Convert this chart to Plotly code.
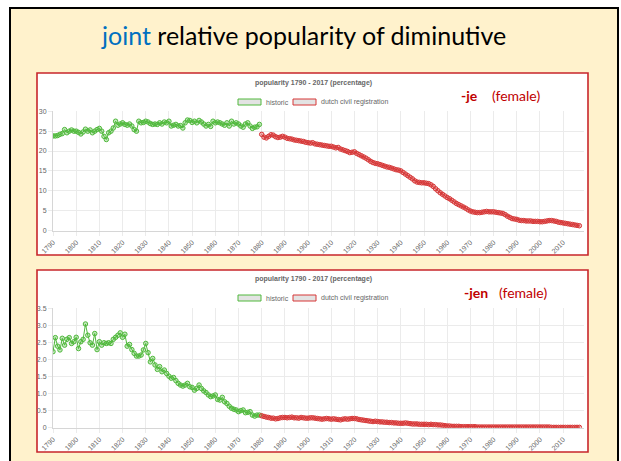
import plotly.graph_objects as go

W, H = 621, 461

# ---------------- data ----------------
hist_years = list(range(1790, 1880))
civil_years = list(range(1880, 2018))

je_historic = [23.8, 23.8, 23.9, 24.2, 24.4, 25.4, 24.6, 25.0, 25.3, 25.0,
               25.0, 24.7, 24.3, 24.8, 25.5, 25.0, 25.3, 24.6, 25.0, 25.4,
               25.7, 25.0, 23.7, 22.9, 24.6, 25.0, 25.8, 27.5, 26.5, 26.8,
               27.1, 26.7, 26.5, 26.8, 26.3, 25.4, 25.0, 27.5, 27.1, 27.2,
               27.5, 27.3, 26.9, 26.7, 26.8, 26.7, 27.1, 26.8, 27.3, 27.1,
               27.5, 26.3, 26.5, 26.7, 26.3, 26.4, 25.8, 27.1, 27.8, 27.7,
               27.2, 27.5, 27.1, 27.7, 27.3, 26.8, 26.3, 26.7, 26.2, 27.5,
               27.1, 27.3, 27.1, 26.8, 26.5, 27.1, 26.3, 27.5, 26.8, 27.1,
               26.8, 26.3, 26.0, 26.8, 27.1, 26.3, 25.7, 26.0, 26.1, 26.7]

je_civil = [24.2, 23.5, 23.3, 23.7, 24.1, 24.0, 23.6, 23.4, 23.5, 23.7,
            23.5, 23.2, 23.1, 23.0, 22.8, 22.7, 22.6, 22.5, 22.4, 22.2,
            22.1, 22.0, 22.1, 21.8, 21.7, 21.6, 21.5, 21.4, 21.3, 21.2,
            21.2, 21.0, 20.8, 20.9, 20.5, 20.3, 20.1, 19.9, 19.6, 19.7,
            19.8, 19.4, 19.1, 18.8, 18.5, 18.2, 17.8, 17.4, 17.1, 16.9,
            16.8, 16.6, 16.4, 16.2, 16.0, 15.9, 15.7, 15.5, 15.3, 15.2,
            15.0, 14.6, 14.2, 13.8, 13.4, 13.0, 12.5, 12.2, 12.1, 12.0,
            12.0, 11.9, 11.8, 11.5, 11.1, 10.5, 10.0, 9.5, 9.1, 8.7,
            8.3, 8.0, 7.6, 7.2, 6.8, 6.5, 6.2, 5.9, 5.6, 5.2,
            4.9, 4.7, 4.6, 4.5, 4.5, 4.6, 4.7, 4.8, 4.7, 4.7,
            4.7, 4.6, 4.5, 4.4, 4.3, 4.0, 3.6, 3.3, 3.0, 2.9,
            2.8, 2.6, 2.5, 2.5, 2.4, 2.4, 2.4, 2.3, 2.3, 2.3,
            2.2, 2.2, 2.3, 2.4, 2.5, 2.5, 2.4, 2.3, 2.1, 2.0,
            1.9, 1.8, 1.7, 1.6, 1.5, 1.4, 1.3, 1.2]

jen_historic = [2.23, 2.64, 2.39, 2.28, 2.62, 2.42, 2.59, 2.64, 2.47, 2.52,
                2.65, 2.32, 2.52, 2.59, 3.04, 2.71, 2.49, 2.42, 2.76, 2.29,
                2.52, 2.42, 2.49, 2.47, 2.49, 2.47, 2.59, 2.65, 2.71, 2.78,
                2.65, 2.74, 2.39, 2.44, 2.29, 2.18, 2.10, 2.10, 2.13, 2.28,
                2.47, 2.20, 1.93, 2.03, 1.84, 1.71, 1.79, 1.64, 1.69, 1.59,
                1.51, 1.45, 1.47, 1.38, 1.30, 1.25, 1.22, 1.25, 1.30, 1.20,
                1.18, 1.10, 1.15, 1.25, 1.15, 1.08, 1.03, 0.96, 0.91, 0.93,
                0.96, 0.83, 0.81, 0.89, 0.76, 0.71, 0.63, 0.57, 0.54, 0.52,
                0.47, 0.50, 0.52, 0.44, 0.45, 0.47, 0.37, 0.34, 0.37, 0.37]

jen_civil = [0.35, 0.33, 0.31, 0.30, 0.28, 0.28, 0.26, 0.27, 0.29, 0.30,
             0.30, 0.29, 0.30, 0.31, 0.29, 0.29, 0.28, 0.30, 0.29, 0.28,
             0.28, 0.29, 0.29, 0.28, 0.27, 0.26, 0.25, 0.26, 0.27, 0.26,
             0.25, 0.26, 0.25, 0.24, 0.23, 0.25, 0.26, 0.25, 0.26, 0.27,
             0.27, 0.26, 0.24, 0.23, 0.22, 0.21, 0.20, 0.19, 0.18, 0.19,
             0.18, 0.17, 0.17, 0.16, 0.16, 0.15, 0.15, 0.14, 0.14, 0.13,
             0.13, 0.13, 0.14, 0.13, 0.12, 0.11, 0.11, 0.11, 0.10, 0.10,
             0.10, 0.10, 0.09, 0.10, 0.09, 0.09, 0.08, 0.08, 0.07, 0.06,
             0.05, 0.05, 0.04, 0.04, 0.04, 0.04, 0.03, 0.03, 0.03, 0.03,
             0.03, 0.03, 0.03, 0.02, 0.02, 0.02, 0.02, 0.02, 0.02, 0.02,
             0.02, 0.02, 0.02, 0.02, 0.02, 0.02, 0.02, 0.02, 0.02, 0.02,
             0.02, 0.02, 0.02, 0.02, 0.02, 0.02, 0.02, 0.02, 0.02, 0.02,
             0.02, 0.02, 0.02, 0.02, 0.02, 0.01, 0.01, 0.01, 0.01, 0.01,
             0.01, 0.01, 0.01, 0.01, 0.01, 0.01, 0.01, 0.01]

x_tick_vals = [1790, 1800, 1810, 1820, 1830, 1840, 1850, 1860, 1870, 1880, 1890,
               1900, 1910, 1920, 1930, 1940, 1950, 1960, 1970, 1980, 1990, 2000, 2010]
x_tick_text = [str(v) for v in x_tick_vals]
y1_tick_vals = [0, 5, 10, 15, 20, 25, 30]
y1_tick_text = ["0", "5", "10", "15", "20", "25", "30"]
y2_tick_vals = [0, 0.5, 1.0, 1.5, 2.0, 2.5, 3.0, 3.5]
y2_tick_text = ["0", "0.5", "1.0", "1.5", "2.0", "2.5", "3.0", "3.5"]

chart_title = "popularity 1790 - 2017 (percentage)"
series_names = ["historic", "dutch civil registration"]

# ---------------- helpers ----------------
def X(px):
    return px / W


def Y(py):
    return 1 - py / H


GREEN = "rgb(80,185,60)"
GREEN_FILL = "rgba(80,185,60,0.35)"
RED = "rgb(215,55,55)"
RED_FILL = "rgba(215,55,55,0.35)"
GRID = "#ebebeb"
TXT = "#666666"
FONT = "Liberation Sans, Arial, sans-serif"
SLIDE_FONT = "Lato, Liberation Sans, sans-serif"


def series(x, y, color, fill, xa, ya, name):
    return go.Scatter(
        x=x, y=y, mode="lines+markers", name=name, showlegend=False,
        line=dict(color=color, width=1),
        marker=dict(symbol="circle", size=4.5, color=fill, line=dict(color=color, width=1)),
        xaxis=xa, yaxis=ya,
    )


fig = go.Figure()
fig.add_trace(series(hist_years, je_historic, GREEN, GREEN_FILL, "x", "y", series_names[0]))
fig.add_trace(series(civil_years, je_civil, RED, RED_FILL, "x", "y", series_names[1]))
fig.add_trace(series(hist_years, jen_historic, GREEN, GREEN_FILL, "x2", "y2", series_names[0]))
fig.add_trace(series(civil_years, jen_civil, RED, RED_FILL, "x2", "y2", series_names[1]))

xcommon = dict(
    range=[1790, 2019], tickmode="array", tickvals=x_tick_vals, ticktext=x_tick_text,
    tickangle=-45, showgrid=True, gridcolor=GRID, gridwidth=1,
    ticks="outside", ticklen=4, tickcolor=GRID, showline=True, linecolor="#d6d6d6",
    tickfont=dict(family=FONT, size=7, color=TXT), zeroline=False, fixedrange=True,
    automargin=False,
)
ycommon = dict(
    showgrid=True, gridcolor=GRID, gridwidth=1, ticks="outside", ticklen=4, tickcolor=GRID,
    showline=True, linecolor="#d6d6d6", zeroline=False,
    tickfont=dict(family=FONT, size=7, color=TXT), fixedrange=True, automargin=False,
)

shapes = [
    # slide background
    dict(type="rect", xref="paper", yref="paper", x0=X(10), x1=X(618), y0=Y(470), y1=Y(8),
         fillcolor="#FFF2CC", line=dict(color="black", width=2), layer="below"),
    # panels
    dict(type="rect", xref="paper", yref="paper", x0=X(37), x1=X(588), y0=Y(255), y1=Y(73),
         fillcolor="white", line=dict(color="#C8262B", width=1.6), layer="below"),
    dict(type="rect", xref="paper", yref="paper", x0=X(37), x1=X(588), y0=Y(452), y1=Y(270),
         fillcolor="white", line=dict(color="#C8262B", width=1.6), layer="below"),
]

annotations = [
    dict(xref="paper", yref="paper", x=X(303), y=Y(35), xanchor="center", yanchor="middle",
         showarrow=False,
         text="<span style='color:#0070C0'>joint</span> relative popularity of diminutive",
         font=dict(family=SLIDE_FONT, size=25, color="black")),
]

for top, label, lx, fx in [(0, "-je", 459, 490), (196, "-jen", 462, 497)]:
    shapes += [
        dict(type="rect", xref="paper", yref="paper", x0=X(238), x1=X(261),
             y0=Y(105 + top), y1=Y(99 + top), fillcolor="#e3e3e3",
             line=dict(color=GREEN, width=1)),
        dict(type="rect", xref="paper", yref="paper", x0=X(293), x1=X(316),
             y0=Y(105 + top), y1=Y(99 + top), fillcolor="#e3e3e3",
             line=dict(color=RED, width=1)),
    ]
    annotations += [
        dict(xref="paper", yref="paper", x=X(313), y=Y(83 + top), xanchor="center",
             yanchor="middle", showarrow=False, text="<b>" + chart_title + "</b>",
             font=dict(family=FONT, size=7, color=TXT)),
        dict(xref="paper", yref="paper", x=X(264), y=Y(102 + top), xanchor="left",
             yanchor="middle", showarrow=False, text=series_names[0],
             font=dict(family=FONT, size=7, color=TXT)),
        dict(xref="paper", yref="paper", x=X(319), y=Y(102 + top), xanchor="left",
             yanchor="middle", showarrow=False, text=series_names[1],
             font=dict(family=FONT, size=7, color=TXT)),
        dict(xref="paper", yref="paper", x=X(lx), y=Y(96 + top), xanchor="left",
             yanchor="middle", showarrow=False, text="<b>" + label + "</b>",
             font=dict(family=SLIDE_FONT, size=14, color="#C00000")),
        dict(xref="paper", yref="paper", x=X(fx), y=Y(96 + top), xanchor="left",
             yanchor="middle", showarrow=False, text="(female)",
             font=dict(family=SLIDE_FONT, size=14, color="#C00000")),
    ]

fig.update_layout(
    template="none",
    width=W, height=H, autosize=False,
    margin=dict(l=0, r=0, t=0, b=0, pad=0, autoexpand=False),
    paper_bgcolor="white", plot_bgcolor="white",
    showlegend=False,
    xaxis=dict(domain=[X(53), X(584)], anchor="y", **xcommon),
    yaxis=dict(domain=[Y(230.5), Y(111.3)], anchor="x", range=[0, 30],
               tickmode="array", tickvals=y1_tick_vals, ticktext=y1_tick_text, **ycommon),
    xaxis2=dict(domain=[X(53), X(584)], anchor="y2", **xcommon),
    yaxis2=dict(domain=[Y(427.7), Y(308.3)], anchor="x2", range=[0, 3.5],
                tickmode="array", tickvals=y2_tick_vals, ticktext=y2_tick_text, **ycommon),
    shapes=shapes,
    annotations=annotations,
)

fig.write_html(
    "out.html",
    config={"displayModeBar": False},
    post_script="document.body.style.margin='0';document.body.style.overflow='hidden';",
)
